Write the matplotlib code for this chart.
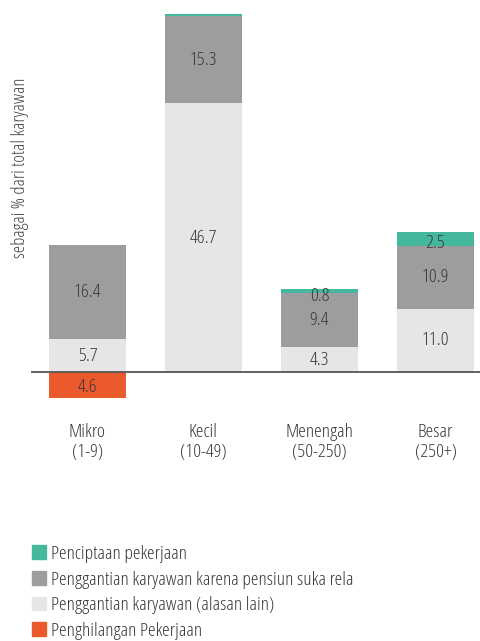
import numpy as np
import matplotlib
matplotlib.use("Agg")
import matplotlib.pyplot as plt
from matplotlib.patches import Patch

plt.rcParams['font.family'] = ['Open Sans', 'DejaVu Sans']
plt.rcParams['font.stretch'] = 'condensed'
plt.rcParams['font.weight'] = 300

categories = ["Mikro\n(1-9)", "Kecil\n(10-49)", "Menengah\n(50-250)", "Besar\n(250+)"]
lain = [5.7, 46.7, 4.3, 11.0]
pensiun = [16.4, 15.3, 9.4, 10.9]
cipta = [0.0, 0.3, 0.8, 2.5]
hilang = [-4.6, 0.0, 0.0, 0.0]
cipta_labels = ["", "", "0.8", "2.5"]

series_names = ["Penciptaan pekerjaan",
                "Penggantian karyawan karena pensiun suka rela",
                "Penggantian karyawan (alasan lain)",
                "Penghilangan Pekerjaan"]
c_green = "#43b89c"
c_gray = "#9e9c9f"
c_light = "#e6e6e6"
c_orange = "#eb5a2d"
txt = "#383838"

fig = plt.figure(figsize=(4.8, 6.41), dpi=100)
ax = fig.add_axes([31/480, 241/641, 449/480, 390/641])

x = np.arange(len(categories))
w = 0.66
lain = np.array(lain)
pensiun = np.array(pensiun)
cipta = np.array(cipta)
hilang = np.array(hilang)

ax.bar(x, lain, w, color=c_light)
ax.bar(x, pensiun, w, bottom=lain, color=c_gray)
ax.bar(x, cipta, w, bottom=lain + pensiun, color=c_green)
ax.bar(x, hilang, w, color=c_orange)
ax.axhline(0, color="#555555", lw=1.3, zorder=5)

fs = 14
for i in range(len(x)):
    ax.text(x[i], lain[i] / 2, f"{lain[i]:.1f}", ha="center", va="center", fontsize=fs, color=txt)
    ax.text(x[i], lain[i] + pensiun[i] / 2, f"{pensiun[i]:.1f}", ha="center", va="center", fontsize=fs, color=txt)
    if cipta_labels[i]:
        ax.text(x[i], lain[i] + pensiun[i] + cipta[i] / 2 - 0.8, cipta_labels[i], ha="center", va="center",
                fontsize=fs, color=txt)
    if hilang[i] < 0:
        ax.text(x[i], hilang[i] / 2 - 0.3, f"{-hilang[i]:.1f}", ha="center", va="center", fontsize=fs, color=txt,
                zorder=6)

ax.set_xlim(-0.487, 3.384)
ax.set_ylim(-4.87, 62.96)
ax.axis("off")

for i, c in enumerate(categories):
    fig.text((31 + (x[i] + 0.487) * 116) / 480, 1 - 442/641, c, ha="center", va="center",
             fontsize=fs, color=txt, linespacing=1.1)

fig.text(20/480, 1 - 168/641, "sebagai % dari total karyawan", rotation=90, ha="center", va="center",
         fontsize=13.5, color="#444444")

handles = [Patch(color=c_green), Patch(color=c_gray), Patch(color=c_light), Patch(color=c_orange)]
fig.legend(handles, series_names, loc="upper left", bbox_to_anchor=(24/480, 1 - 537/641), frameon=False,
           fontsize=fs, handlelength=0.72, handleheight=0.72, handletextpad=0.25, labelspacing=0.4,
           borderaxespad=0, labelcolor=txt)

fig.savefig("out.png", dpi=100)
